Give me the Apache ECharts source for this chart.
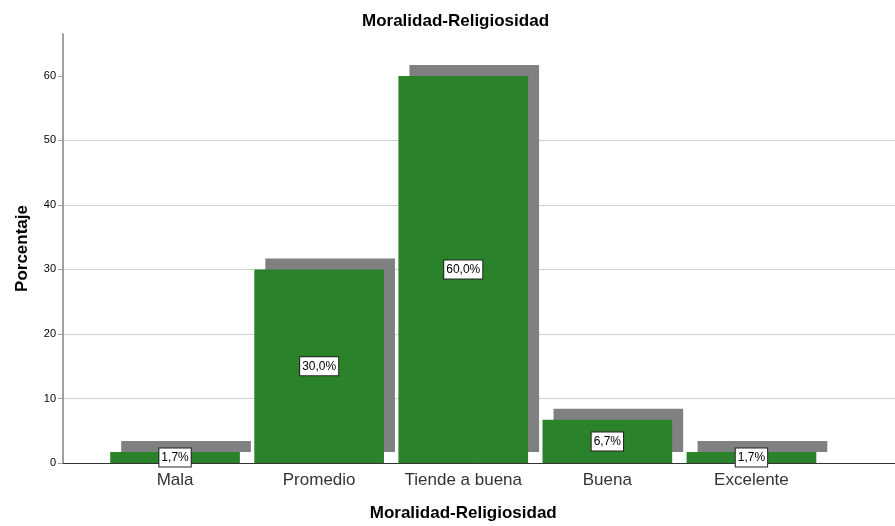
<!DOCTYPE html>
<html><head><meta charset="utf-8">
<script src="https://cdn.jsdelivr.net/npm/echarts@6/dist/echarts.min.js"></script>
<style>html,body{margin:0;padding:0;background:#fff}#c{width:895px;height:526px}</style>
</head><body><div id="c"></div>
<script>
const categories = ['Mala', 'Promedio', 'Tiende a buena', 'Buena', 'Excelente'];
const values = [1.7, 30.0, 60.0, 6.7, 1.7];
const yTicks = [0, 10, 20, 30, 40, 50, 60];
const titleText = 'Moralidad-Religiosidad';
const yName = 'Porcentaje';

const F = '"Liberation Sans", Arial, sans-serif';
const chart = echarts.init(document.getElementById('c'), null, {renderer: 'canvas'});
const yMax = 66.5;
const shadowData = values.map((v, i) => [i, v]);
chart.setOption({
  animation: false,
  title: {text: titleText, left: 357, top: 8, textStyle: {fontFamily: F, fontSize: 17, fontWeight: 'bold', color: '#000'}},
  grid: [
    {left: 63, right: 0, top: 34, bottom: 63, containLabel: false, outerBoundsMode: 'none'},
    {left: 103, right: 71.5, top: 34, bottom: 63, containLabel: false, outerBoundsMode: 'none'}
  ],
  xAxis: [
    {type: 'value', gridIndex: 0, min: 0, max: 1, axisLine: {show: true, lineStyle: {color: '#333', width: 1}}, axisTick: {show: false}, axisLabel: {show: false}, splitLine: {show: false}},
    {type: 'category', gridIndex: 1, data: categories, axisLine: {show: false}, axisTick: {show: false},
     axisLabel: {fontFamily: F, fontSize: 17, color: '#333', margin: 9, interval: 0, hideOverlap: false},
     name: titleText, nameLocation: 'middle', nameGap: 42, nameTextStyle: {fontFamily: F, fontSize: 17, fontWeight: 'bold', color: '#000'}}
  ],
  yAxis: [
    {type: 'value', gridIndex: 0, min: 0, max: yMax, interval: 10,
     axisLine: {show: true, lineStyle: {color: '#a0a0a0', width: 2}},
     axisTick: {show: true, length: 5, lineStyle: {color: '#a0a0a0'}, customValues: yTicks},
     axisLabel: {fontFamily: F, fontSize: 11, color: '#000', margin: 7, formatter: v => (yTicks.includes(v) ? String(v) : '')},
     splitLine: {show: true, showMaxLine: false, showMinLine: false, lineStyle: {color: '#d0d0d0', width: 1}},
     name: yName, nameLocation: 'middle', nameGap: 32, nameTextStyle: {fontFamily: F, fontSize: 17, fontWeight: 'bold', color: '#000'}},
    {type: 'value', gridIndex: 1, min: 0, max: yMax, interval: 10, show: false, splitLine: {show: false}}
  ],
  series: [
    {type: 'custom', xAxisIndex: 1, yAxisIndex: 1, data: shadowData, z: 1,
     renderItem: (params, api) => {
       const c = api.value(0), v = api.value(1);
       const top = api.coord([c, v]);
       const base = api.coord([c, 0]);
       const w = api.size([1, 0])[0] * 0.9;
       return {type: 'rect', shape: {x: top[0] - w / 2 + 11, y: top[1] - 11, width: w, height: base[1] - top[1]}, style: {fill: '#808080'}};
     }},
    {type: 'bar', xAxisIndex: 1, yAxisIndex: 1, data: values, barWidth: '90%', z: 2,
     itemStyle: {color: '#2a832a'},
     label: {show: true, position: 'inside', formatter: p => p.value.toFixed(1).replace('.', ',') + '%',
       fontFamily: F, fontSize: 12, color: '#000', backgroundColor: '#fff', borderColor: '#222', borderWidth: 1, padding: [3, 2, 3, 2]}}
  ]
});
</script></body></html>
